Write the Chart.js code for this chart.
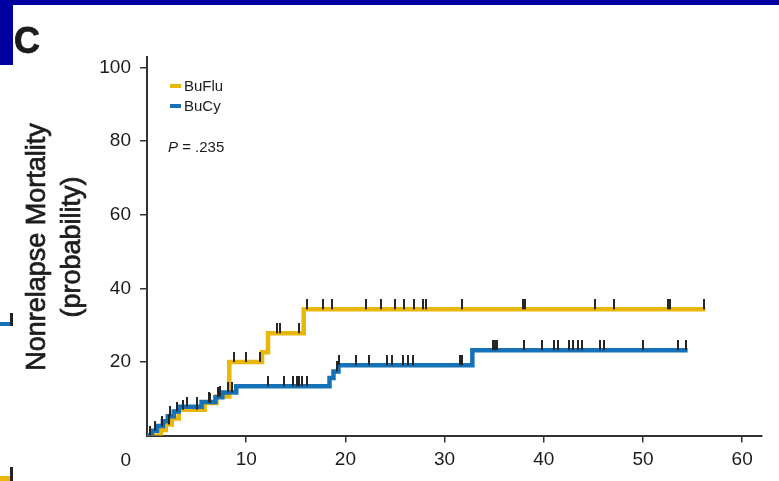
<!DOCTYPE html>
<html>
<head>
<meta charset="utf-8">
<script src="https://cdn.jsdelivr.net/npm/chart.js@4.4.1/dist/chart.umd.min.js"></script>
<style>
  html, body { margin: 0; padding: 0; background: #fff; }
  #wrap { position: relative; width: 779px; height: 481px; overflow: hidden; background: #fff; }
  #wrap canvas { position: absolute; left: 0; top: 0; filter: blur(0.35px); }
  .band { position: absolute; background: #0000a0; }
</style>
</head>
<body>
<div id="wrap">
  <canvas id="nrm" width="779" height="481"></canvas>
  <div class="band" style="left:0;top:0;width:779px;height:5px"></div>
  <div class="band" style="left:0;top:0;width:13px;height:65px"></div>
</div>
<script>
// Cumulative nonrelapse mortality (%) by months after transplant
const seriesNames = ['BuFlu', 'BuCy'];

// BuFlu: event times (months) and cumulative incidence after each event
const fluTimes = [0, 1.4, 1.9, 2.5, 3.2, 5.8, 7.0, 8.3, 11.6, 12.2, 15.8];
const fluNrm   = [0, 1.5, 3.0, 4.6, 7.0, 8.8, 10.6, 20.0, 22.6, 27.8, 34.3];
const fluLastFollowUp = 56.3;
const fluCensored = [2.2, 3.6, 5.0, 6.4, 7.4, 8.8, 10.0, 11.4, 13.1, 13.4, 15.3, 16.1,
                     17.7, 18.6, 22.1, 23.6, 25.0, 25.9, 26.9, 27.8, 28.1, 31.8, 37.9,
                     38.1, 45.2, 47.1, 52.5, 52.7, 56.2];

// BuCy
const cyTimes = [0, 0.5, 1.0, 1.6, 2.1, 2.7, 3.2, 5.5, 6.9, 7.6, 9.0, 18.4, 18.8, 19.3, 32.8];
const cyNrm   = [0, 1.3, 2.6, 3.9, 5.2, 6.5, 7.8, 9.1, 10.4, 11.7, 13.4, 15.6, 17.4, 19.1, 23.2];
const cyLastFollowUp = 54.5;
const cyCensored = [0.3, 0.8, 1.5, 2.3, 3.0, 4.0, 5.0, 6.2, 7.2, 8.2, 8.6, 12.2, 13.8, 14.7,
                    15.1, 15.3, 15.6, 16.1, 19.2, 19.4, 21.1, 22.4, 24.2, 24.7, 25.8, 26.3,
                    26.8, 31.6, 31.8, 34.9, 35.1, 35.3, 38.0, 39.8, 41.0, 41.4, 42.5, 42.9,
                    43.4, 43.9, 45.7, 46.1, 50.0, 53.5, 54.3];

const xTickValues = [10, 20, 30, 40, 50, 60];
const yTickValues = [20, 40, 60, 80, 100];
const pValueText = '.235';

const FLU_COLOR = '#E9B60A';
const CY_COLOR = '#1672B8';
const INK = '#1c1c1c';
const FONT = '"Liberation Sans", Arial, Helvetica, sans-serif';

// value of the step curve at time t
function stepValue(times, vals, t) {
  let v = vals[0];
  for (let i = 0; i < times.length; i++) if (times[i] <= t) v = vals[i];
  return v;
}
function curve(times, vals, end) {
  const pts = times.map((t, i) => ({ x: t, y: vals[i] }));
  pts.push({ x: end, y: vals[vals.length - 1] });
  return pts;
}
function marks(times, vals, censored) {
  return censored.map(t => ({ x: t, y: stepValue(times, vals, t) }));
}

// censor tick: a short vertical bar rising from the curve
const tickImg = document.createElement('canvas');
tickImg.width = 2; tickImg.height = 20;
(function () {
  const g = tickImg.getContext('2d');
  g.fillStyle = '#262626';
  g.fillRect(0, 0, 2, 10);
})();

// text with a hairline outline for a slightly heavier face
function heavyText(ctx, s, x, y, w) {
  ctx.lineWidth = w;
  ctx.strokeStyle = ctx.fillStyle;
  ctx.strokeText(s, x, y);
  ctx.fillText(s, x, y);
}

const decorations = {
  id: 'decorations',
  afterDraw(chart) {
    const { ctx, chartArea } = chart;
    ctx.save();
    ctx.fillStyle = INK;

    // panel letter
    ctx.font = 'bold 36px ' + FONT;
    ctx.textAlign = 'left';
    ctx.textBaseline = 'alphabetic';
    heavyText(ctx, 'C', 14, 53, 0.8);

    // y axis title (two lines)
    ctx.save();
    ctx.translate(38, 247);
    ctx.rotate(-Math.PI / 2);
    ctx.font = '27px ' + FONT;
    ctx.textAlign = 'center';
    ctx.textBaseline = 'middle';
    heavyText(ctx, 'Nonrelapse Mortality', 0, 0, 0.7);
    heavyText(ctx, '(probability)', 0, 35, 0.7);
    ctx.restore();

    // shared origin label
    ctx.font = '19px ' + FONT;
    ctx.textAlign = 'right';
    ctx.textBaseline = 'middle';
    ctx.fillText('0', chartArea.left - 16, chartArea.bottom + 25);

    // legend
    const lx = 170, ly = [86, 106];
    [FLU_COLOR, CY_COLOR].forEach((c, i) => {
      ctx.fillStyle = c;
      ctx.fillRect(lx, ly[i] - 2, 11, 4);
      ctx.fillStyle = INK;
      ctx.font = '15px ' + FONT;
      ctx.textAlign = 'left';
      ctx.textBaseline = 'middle';
      ctx.fillText(seriesNames[i], lx + 14, ly[i] + 1);
    });
    ctx.font = 'italic 15px ' + FONT;
    ctx.fillText('P', 168, 148);
    const pw = ctx.measureText('P').width;
    ctx.font = '15px ' + FONT;
    ctx.fillText(' = ' + pValueText, 168 + pw, 148);

    // edge of the neighbouring panel
    ctx.fillStyle = CY_COLOR;
    ctx.fillRect(0, 322, 12, 4);
    ctx.fillStyle = '#222';
    ctx.fillRect(10, 313, 3, 13);
    ctx.fillStyle = FLU_COLOR;
    ctx.fillRect(0, 476, 12, 5);
    ctx.fillStyle = '#222';
    ctx.fillRect(10, 467, 3, 14);
    ctx.restore();
  }
};

const axisCommon = {
  type: 'linear',
  min: 0,
  grid: { drawOnChartArea: false, drawTicks: true, tickLength: 7, color: '#333', lineWidth: 1.5 },
  border: { display: true, color: '#333', width: 2 },
  ticks: { color: INK, font: { family: FONT, size: 19 }, autoSkip: false, maxRotation: 0 }
};

new Chart(document.getElementById('nrm'), {
  type: 'line',
  data: {
    datasets: [
      { label: 'BuFlu censored', type: 'scatter', data: marks(fluTimes, fluNrm, fluCensored),
        pointStyle: tickImg, pointRadius: 4, order: 0 },
      { label: 'BuCy censored', type: 'scatter', data: marks(cyTimes, cyNrm, cyCensored),
        pointStyle: tickImg, pointRadius: 4, order: 0 },
      { label: 'BuCy', data: curve(cyTimes, cyNrm, cyLastFollowUp), stepped: 'before',
        borderColor: CY_COLOR, borderWidth: 4.5, pointRadius: 0, fill: false, order: 1 },
      { label: 'BuFlu', data: curve(fluTimes, fluNrm, fluLastFollowUp), stepped: 'before',
        borderColor: FLU_COLOR, borderWidth: 4.5, pointRadius: 0, fill: false, order: 2 }
    ]
  },
  options: {
    responsive: false,
    animation: false,
    events: [],
    layout: { padding: { left: 0, right: 17, top: 56.5, bottom: 0 } },
    plugins: { legend: { display: false }, tooltip: { enabled: false } },
    scales: {
      x: Object.assign({}, axisCommon, {
        max: 62,
        ticks: Object.assign({}, axisCommon.ticks, { padding: 6 }),
        afterBuildTicks: s => { s.ticks = xTickValues.map(v => ({ value: v })); },
        afterFit: s => { s.height = 45.5; }
      }),
      y: Object.assign({}, axisCommon, {
        max: 103,
        ticks: Object.assign({}, axisCommon.ticks, { padding: 9 }),
        afterBuildTicks: s => { s.ticks = yTickValues.map(v => ({ value: v })); },
        afterFit: s => { s.width = 147; }
      })
    }
  },
  plugins: [decorations]
});
</script>
</body>
</html>
